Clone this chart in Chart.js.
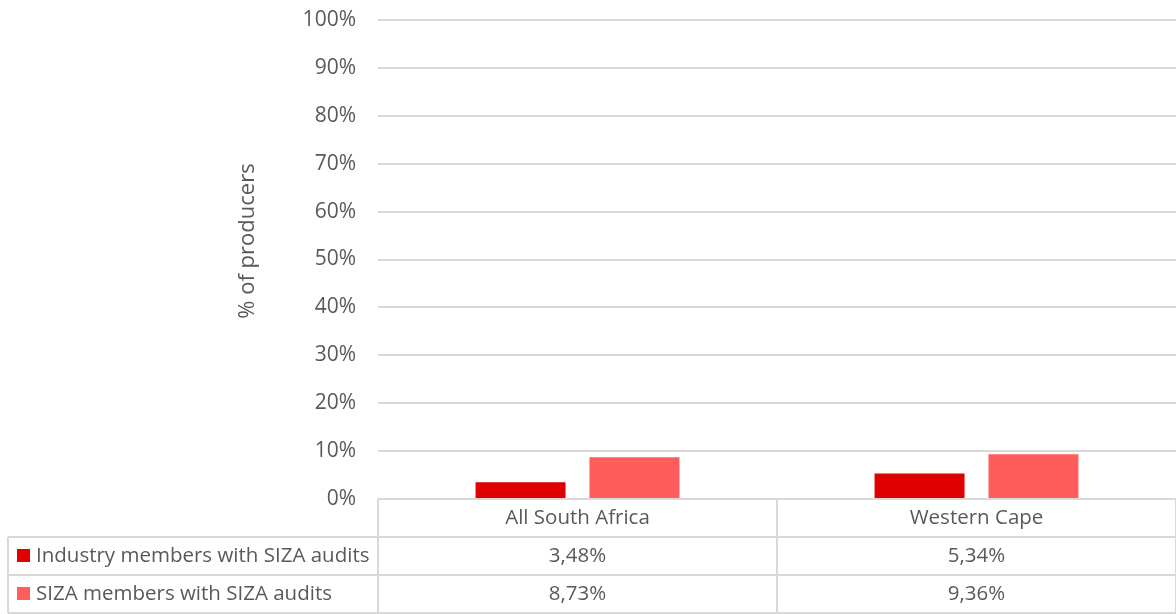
<!DOCTYPE html>
<html>
<head>
<meta charset="utf-8">
<script src="https://cdn.jsdelivr.net/npm/chart.js@4"></script>
<style>
  html, body { margin: 0; padding: 0; background: #fff; }
  #wrap { width: 1176px; height: 614px; }
</style>
</head>
<body>
<div id="wrap"><canvas id="chart" width="1176" height="614"></canvas></div>
<script>
const categories = ['All South Africa', 'Western Cape']
const seriesNames = ['Industry members with SIZA audits', 'SIZA members with SIZA audits']
const industryValues = [3.48, 5.34]
const sizaValues = [8.73, 9.36]
const seriesColors = ['#E00000', '#FF5C5C']
const yTicks = [0, 10, 20, 30, 40, 50, 60, 70, 80, 90, 100]
const yTitle = '% of producers'

const FONT = '"Open Sans", Lato, sans-serif'
const TEXT = '#595959'
const LINE = '#D9D9D9'

function fmt(v) {
    return v.toFixed(2).replace('.', ',') + '%'
}

// draws the Excel style data table under the plot, plus the y title
const dataTable = {
    id: 'dataTable',
    afterDraw(chart) {
        const ctx = chart.ctx
        const x = chart.scales.x
        const area = chart.chartArea
        const rowH = 38
        const tableLeft = 8
        const top = area.bottom
        const edges = [area.left]
        for (let i = 0; i < categories.length; i++) {
            edges.push(area.left + (area.right - area.left) * (i + 1) / categories.length)
        }
        ctx.save()
        ctx.strokeStyle = LINE
        ctx.lineWidth = 2
        ctx.beginPath()
        // horizontal lines
        for (let r = 1; r <= 3; r++) {
            ctx.moveTo(tableLeft, top + r * rowH)
            ctx.lineTo(area.right, top + r * rowH)
        }
        // vertical lines
        ctx.moveTo(tableLeft, top + rowH)
        ctx.lineTo(tableLeft, top + 3 * rowH)
        for (const e of edges) {
            ctx.moveTo(e, top)
            ctx.lineTo(e, top + 3 * rowH)
        }
        ctx.stroke()

        ctx.fillStyle = TEXT
        ctx.font = '20.5px ' + FONT
        ctx.textAlign = 'center'
        ctx.textBaseline = 'middle'
        const rows = [industryValues, sizaValues]
        for (let i = 0; i < categories.length; i++) {
            const cx = x.getPixelForValue(i)
            ctx.fillText(categories[i], cx, top + rowH / 2)
            for (let r = 0; r < rows.length; r++) {
                ctx.fillText(fmt(rows[r][i]), cx, top + rowH * (r + 1) + rowH / 2)
            }
        }
        // series names with legend keys
        ctx.textAlign = 'left'
        for (let r = 0; r < seriesNames.length; r++) {
            const cy = top + rowH * (r + 1) + rowH / 2
            ctx.fillStyle = seriesColors[r]
            ctx.fillRect(17, cy - 7, 13, 13)
            ctx.fillStyle = TEXT
            ctx.fillText(seriesNames[r], 36, cy)
        }

        // axis title, Excel centres it a bit above the plot middle
        ctx.translate(248, 241)
        ctx.rotate(-Math.PI / 2)
        ctx.textAlign = 'center'
        ctx.font = '22px ' + FONT
        ctx.fillText(yTitle, 0, 0)
        ctx.restore()
    }
}

new Chart(document.getElementById('chart'), {
    type: 'bar',
    data: {
        labels: categories,
        datasets: [
            { label: seriesNames[0], data: industryValues, backgroundColor: seriesColors[0] },
            { label: seriesNames[1], data: sizaValues, backgroundColor: seriesColors[1] }
        ]
    },
    options: {
        responsive: false,
        animation: false,
        layout: { padding: { left: 236, right: 0, top: 20, bottom: 115 } },
        datasets: { bar: { categoryPercentage: 0.571, barPercentage: 0.79 } },
        plugins: {
            legend: { display: false },
            tooltip: { enabled: false }
        },
        scales: {
            x: { display: false },
            y: {
                min: 0,
                max: 100,
                afterFit(scale) {
                    scale.width = 142
                    scale.paddingTop = 0
                    scale.paddingBottom = 0
                },
                afterBuildTicks(scale) { scale.ticks = yTicks.map(v => ({ value: v })) },
                border: { display: false },
                grid: { color: LINE, lineWidth: 2, drawTicks: false },
                ticks: {
                    color: TEXT,
                    padding: 22,
                    font: { family: FONT, size: 21 },
                    callback: v => v + '%'
                },
                title: { display: false }
            }
        }
    },
    plugins: [dataTable]
})
</script>
</body>
</html>
